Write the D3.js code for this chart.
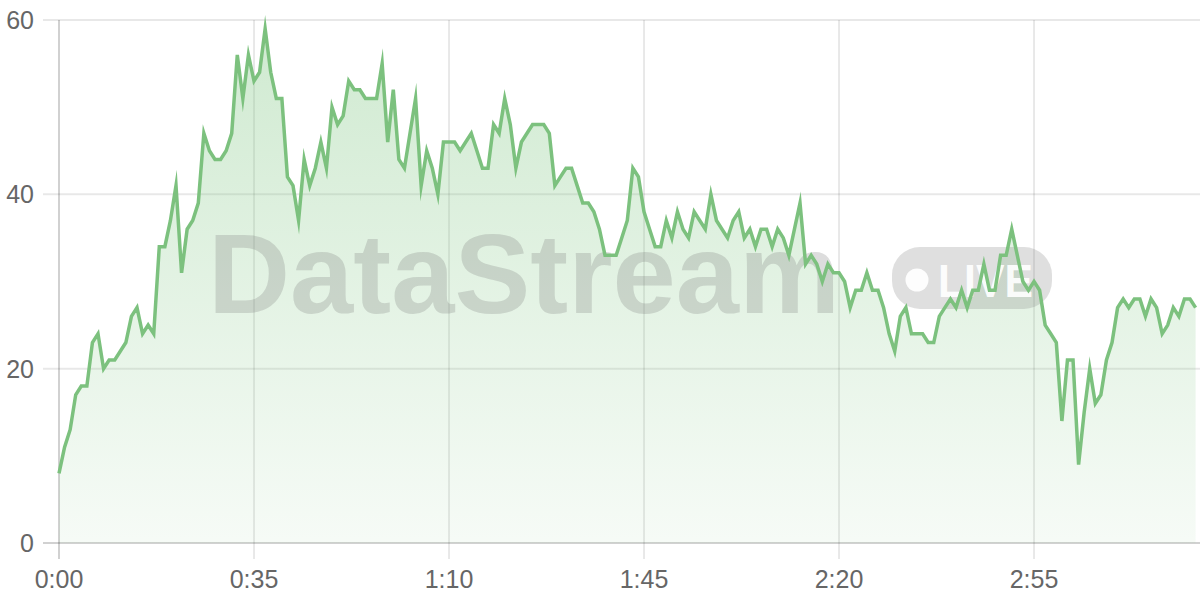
<!DOCTYPE html>
<html>
<head>
<meta charset="utf-8">
<script src="https://cdn.jsdelivr.net/npm/d3@7"></script>
<style>
html,body{margin:0;padding:0;background:#fff;}
svg{display:block;}
</style>
</head>
<body>
<svg id="chart" width="1200" height="600"></svg>
<script>
const values = [8,11,13,17,18,18,23,24,20,21,21,22,23,26,27,24,25,24,34,34,
37,41,31,36,37,39,47,45,44,44,45,47,56,51,56,53,54,59,54,51,
51,42,41,37,44,41,43,46,43,50,48,49,53,52,52,51,51,51,55,46,
52,44,43,47,51,41,45,43,40,46,46,46,45,46,47,45,43,43,48,47,
51,48,43,46,47,48,48,48,47,41,42,43,43,41,39,39,38,36,33,33,
33,35,37,43,42,38,36,34,34,37,35,38,36,35,38,37,36,40,37,36,
35,37,38,35,36,34,36,36,34,36,35,33,36,39,32,33,32,30,32,31,
31,30,27,29,29,31,29,29,27,24,22,26,27,24,24,24,23,23,26,27,
28,27,29,27,29,29,32,29,29,33,33,36,33,30,29,30,29,25,24,23,
14,21,21,9,15,20,16,17,21,23,27,28,27,28,28,26,28,27,24,25,
27,26,28,28,27];
const seconds = values.map((v,i)=>i);
const xTickValues = [0,35,70,105,140,175];
const xTickLabels = ["0:00","0:35","1:10","1:45","2:20","2:55"];
const yTickValues = [0,20,40,60];
const watermarkText = "DataStream";
const badgeText = "LIVE";

const svg = d3.select("#chart");
const pLeft = 59, pRight = 1195.6, pTop = 20, pBottom = 543;
const x = d3.scaleLinear().domain([0, seconds.length-1]).range([pLeft, pRight]);
const y = d3.scaleLinear().domain([0, 60]).range([pBottom, pTop]);
const green = "rgb(124,193,126)";
const font = "'Liberation Sans', Arial, Helvetica, sans-serif";

const defs = svg.append("defs");
const grad = defs.append("linearGradient").attr("id","fillGrad")
  .attr("gradientUnits","userSpaceOnUse").attr("x1",0).attr("x2",0)
  .attr("y1",pTop).attr("y2",pBottom);
grad.append("stop").attr("offset","0%").attr("stop-color","rgb(129,199,132)").attr("stop-opacity",0.38);
grad.append("stop").attr("offset","100%").attr("stop-color","rgb(129,199,132)").attr("stop-opacity",0.07);

// horizontal grid
const gy = svg.append("g");
gy.selectAll("line").data(yTickValues).join("line")
  .attr("x1", pLeft-16).attr("x2", 1200)
  .attr("y1", d=>y(d)).attr("y2", d=>y(d))
  .attr("stroke", d=> d===0 ? "rgba(0,0,0,0.18)" : "rgba(0,0,0,0.09)")
  .attr("stroke-width", 2);
gy.selectAll("text").data(yTickValues).join("text")
  .attr("x", 34).attr("y", d=>y(d)+9)
  .attr("text-anchor","end")
  .attr("font-family", font).attr("font-size", 25).attr("fill","#666")
  .text(d=>d);

// vertical grid
const gx = svg.append("g");
gx.selectAll("line").data(xTickValues).join("line")
  .attr("x1", d=>x(d)).attr("x2", d=>x(d))
  .attr("y1", pTop).attr("y2", pBottom+16)
  .attr("stroke", d=> d===0 ? "rgba(0,0,0,0.18)" : "rgba(0,0,0,0.09)")
  .attr("stroke-width", 2);
gx.selectAll("text").data(xTickValues).join("text")
  .attr("x", d=>x(d)).attr("y", 588)
  .attr("text-anchor","middle")
  .attr("font-family", font).attr("font-size", 25).attr("fill","#666")
  .text((d,i)=>xTickLabels[i]);

// area
const area = d3.area().x((d,i)=>x(seconds[i])).y0(y(0)).y1(d=>y(d));
svg.append("path").datum(values).attr("d", area).attr("fill","url(#fillGrad)");

// watermark
const wm = svg.append("g");
wm.append("text").attr("x", 208).attr("y", 313)
  .attr("font-family", "'Liberation Sans', Arial, sans-serif").attr("font-weight","bold")
  .attr("font-size", 113).attr("textLength", 632).attr("lengthAdjust","spacingAndGlyphs")
  .attr("fill","rgba(120,120,120,0.25)")
  .text(watermarkText);
wm.append("rect").attr("x", 892).attr("y", 247).attr("width", 160).attr("height", 62)
  .attr("rx", 28).attr("fill","rgba(130,130,130,0.26)");
wm.append("circle").attr("cx", 917).attr("cy", 280).attr("r", 11.5).attr("fill","rgba(255,255,255,0.92)");
wm.append("text").attr("x", 938).attr("y", 297)
  .attr("font-family", "'Liberation Sans', Arial, sans-serif").attr("font-weight","bold")
  .attr("font-size", 46).attr("textLength", 95).attr("lengthAdjust","spacingAndGlyphs")
  .attr("fill","rgba(255,255,255,0.92)").text(badgeText);

// line
const line = d3.line().x((d,i)=>x(seconds[i])).y(d=>y(d));
svg.append("path").datum(values).attr("d", line)
  .attr("fill","none").attr("stroke", green).attr("stroke-width", 3.5)
  .attr("stroke-linejoin","miter").attr("stroke-miterlimit", 10);
</script>
</body>
</html>
